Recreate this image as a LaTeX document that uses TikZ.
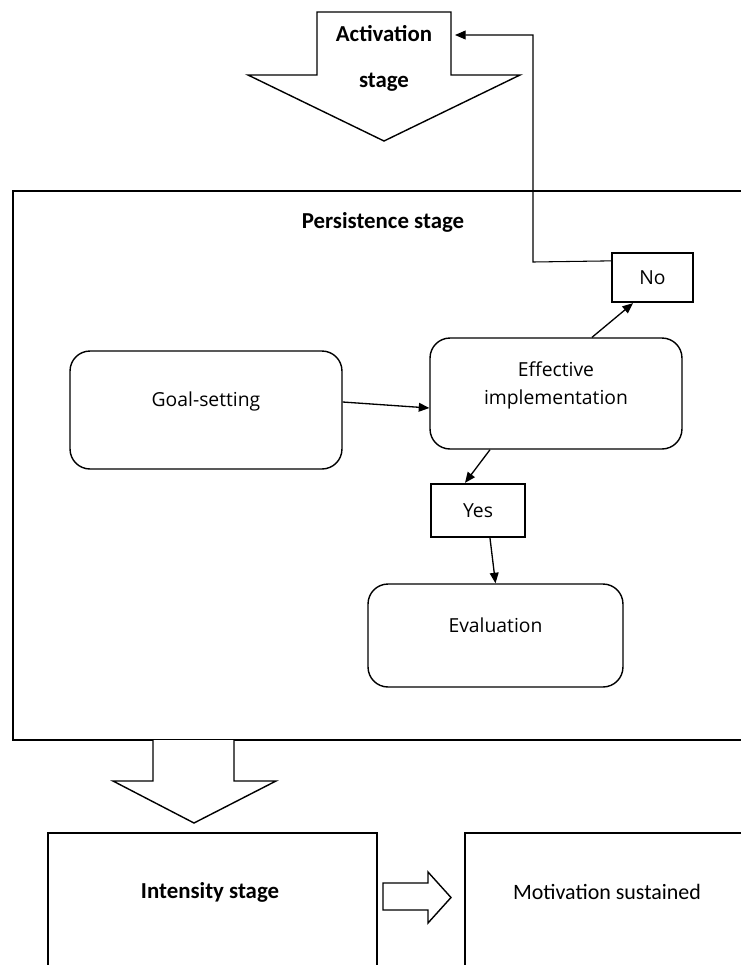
\documentclass[tikz,border=0pt]{standalone}
\usepackage{fontspec}
\setmainfont{Open Sans}
\newfontfamily\calfont{Carlito}
\usetikzlibrary{arrows.meta, calc}
\tikzset{every picture/.style={line width=0.75pt}}

\begin{document}
\begin{tikzpicture}[x=0.02cm, y=-0.02cm, >={Triangle[length=6pt,width=5pt]},
        stepbox/.style={draw, line width=0.8pt, rounded corners=0.4cm, align=center, font=\fontsize{11}{16}\selectfont},
        tagbox/.style={draw, line width=1.3pt, font=\fontsize{11}{13}\selectfont},
        stagetitle/.style={font=\calfont\bfseries\fontsize{13}{15}\selectfont},
        blockarrow/.style={draw, line width=0.8pt, fill=white, line join=miter}]
        \useasboundingbox (0,0) rectangle (741,965);
        \clip (0,0) rectangle (741,965);

        % activation arrow
        \draw[blockarrow] (317,12) -- (451,12) -- (451,75) -- (520,75) -- (384,141)
            -- (248,75) -- (317,75) -- cycle;
        \node[stagetitle, align=center, font=\calfont\bfseries\fontsize{13}{26.6}\selectfont] (act) at (384,58.5) {Activation\\stage};
        \coordinate (actin) at (455,35);

        % persistence frame
        \draw[line width=1.3pt] (13,191) rectangle (770,740);
        \node[stagetitle] (pers) at (383,222) {Persistence stage};

        \node[stepbox, minimum width=5.44cm, minimum height=2.36cm] (goal) at (206,410) {Goal-setting\\[-4pt]};
        \node[stepbox, minimum width=5.04cm, minimum height=2.22cm] (eff) at (556,393.5) {Effective\\implementation\\[-4pt]};
        \node[tagbox, minimum width=1.62cm, minimum height=0.98cm] (no) at (652.5,277.5) {No};
        \node[tagbox, minimum width=1.88cm, minimum height=1.06cm] (yes) at (478,510.5) {Yes};
        \node[stepbox, minimum width=5.1cm, minimum height=2.06cm] (eval) at (495.5,635.5) {Evaluation\\[-4pt]};
        \coordinate (bend) at (533,262);

        \path
            ($(goal.east)+(0,-8)$) edge[->] ($(eff.west)+(0,14.5)$)
            ($(eff.north)+(36,0)$) edge[->] ($(no.south)+(-19.5,0)$)
            ($(eff.south)+(-66,0)$) edge[->] ($(yes.north)+(-13,0)$)
            ($(yes.south)+(12,0)$) edge[->] (eval.north)
            ;
        \draw[->, line width=0.6pt] ($(no.north west)+(0,9)$) -- (bend) |- (actin);

        % intensity stage
        \draw[blockarrow] (153,740) -- (153,781) -- (113,781) -- (194,823) -- (276,781)
            -- (234,781) -- (234,740);
        \draw[line width=1.3pt] (48,1000) |- (377,833) -- (377,1000);
        \node[stagetitle] (ints) at (210,892) {Intensity stage};
        \draw[blockarrow] (383,883) -- (428,883) -- (428,872) -- (451,897.5) -- (428,923)
            -- (428,910) -- (383,910) -- cycle;
        \draw[line width=1.3pt] (465,1000) |- (770,833);
        \node[font=\calfont\fontsize{12.5}{15}\selectfont] (motiv) at (607,892) {Motivation sustained};
    \end{tikzpicture}
\end{document}
